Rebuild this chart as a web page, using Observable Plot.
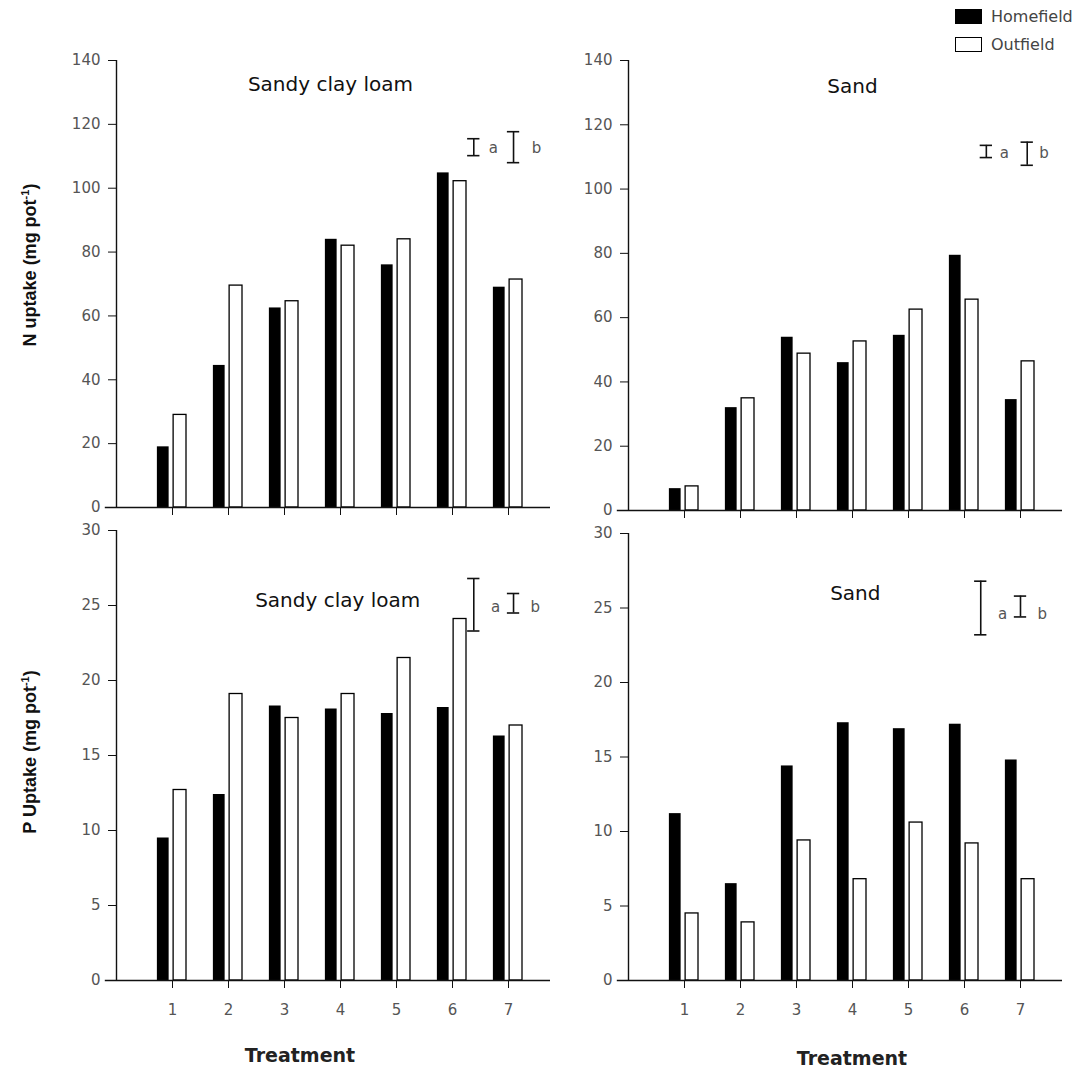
<!DOCTYPE html>
<html>
<head>
<meta charset="utf-8">
<script src="https://cdn.jsdelivr.net/npm/d3@7"></script>
<script src="https://cdn.jsdelivr.net/npm/@observablehq/plot@0.6"></script>
<style>
  body { margin: 0; background: #fff; }
  #wrap { position: relative; width: 1088px; height: 1075px; background: #fff; overflow: hidden; }
  .pos { position: absolute; }
  .ylab { font-family: "Liberation Sans", Arial, sans-serif; font-weight: bold; font-size: 18px; color: #111;
          transform: translate(-50%, -50%) rotate(-90deg); white-space: nowrap; }
  .xlab { font-family: "DejaVu Sans", sans-serif; font-weight: bold; font-size: 19px; color: #222;
          transform: translate(-50%, -50%); white-space: nowrap; }
  .leg { font-family: "DejaVu Sans", sans-serif; font-size: 16px; color: #444; white-space: nowrap; }
</style>
</head>
<body>
<div id="wrap"></div>
<script>
// ---------- data ----------
const treatments = [1, 2, 3, 4, 5, 6, 7];
const seriesNames = ["Homefield", "Outfield"];

// N uptake (mg pot-1)
const nSandyClayLoamHome = [19, 44.5, 62.5, 84, 76, 104.8, 69];
const nSandyClayLoamOut  = [29, 69.5, 64.6, 82, 84, 102.2, 71.4];
const nSandHome = [6.8, 32, 53.9, 46, 54.5, 79.4, 34.5];
const nSandOut  = [7.5, 34.9, 48.8, 52.6, 62.5, 65.6, 46.4];

// P uptake (mg pot-1)
const pSandyClayLoamHome = [9.5, 12.4, 18.3, 18.1, 17.8, 18.2, 16.3];
const pSandyClayLoamOut  = [12.7, 19.1, 17.5, 19.1, 21.5, 24.1, 17.0];
const pSandHome = [11.2, 6.5, 14.4, 17.3, 16.9, 17.2, 14.8];
const pSandOut  = [4.5, 3.9, 9.4, 6.8, 10.6, 9.2, 6.8];

// y ticks
const nTicks = [0, 20, 40, 60, 80, 100, 120, 140];
const pTicks = [0, 5, 10, 15, 20, 25, 30];

// LSD bars (a, b): position on treatment axis, low, high; label positions
const lsdLetters = ["a", "b"];
const nSandyLsdX = [6.38, 7.09], nSandyLsdLow = [110.2, 108], nSandyLsdHigh = [115.5, 117.7], nSandyLsdTextX = [6.73, 7.5], nSandyLsdTextY = 112.5;
const nSandLsdX = [6.39, 7.12], nSandLsdLow = [109.8, 107.4], nSandLsdHigh = [113.6, 114.6], nSandLsdTextX = [6.71, 7.42], nSandLsdTextY = 111.3;
const pSandyLsdX = [6.38, 7.09], pSandyLsdLow = [23.3, 24.5], pSandyLsdHigh = [26.8, 25.8], pSandyLsdTextX = [6.77, 7.48], pSandyLsdTextY = 24.9;
const pSandLsdX = [6.29, 7.0], pSandLsdLow = [23.2, 24.4], pSandLsdHigh = [26.8, 25.8], pSandLsdTextX = [6.68, 7.39], pSandLsdTextY = 24.6;

// ---------- drawing ----------
const wrap = document.getElementById("wrap");

function panel({home, out, yMax, ticks, title, titleX, titleY, lsdX, lsdLow, lsdHigh, lsdTextX, lsdTextY,
                showXLabels, left, top, width, height, mLeft, mTop, mBottom, mRight}) {
  const data = treatments.map((t, i) => ({t, home: home[i], out: out[i]}));
  const lsd = lsdLetters.map((l, i) => ({l, x: lsdX[i], lo: lsdLow[i], hi: lsdHigh[i], tx: lsdTextX[i], ty: lsdTextY}));
  const capHalf = 0.11;
  const chart = Plot.plot({
    width, height,
    marginLeft: mLeft, marginTop: mTop, marginBottom: mBottom, marginRight: mRight,
    x: {domain: [0, 7.75], axis: null},
    y: {domain: [0, yMax], axis: null},
    style: {fontFamily: "'DejaVu Sans', sans-serif", background: "transparent", overflow: "visible"},
    marks: [
      Plot.rect(data, {x1: d => d.t - 0.27, x2: d => d.t - 0.06, y1: 0, y2: "home", fill: "black"}),
      Plot.rect(data, {x1: d => d.t + 0.02, x2: d => d.t + 0.25, y1: 0, y2: "out", fill: "white", stroke: "black", strokeWidth: 1.3}),
      Plot.axisY({ticks, tickSize: 8, tickPadding: 8, fontSize: 15, fill: "#555", stroke: "#111", label: null}),
      Plot.axisX({ticks: treatments, tickSize: 8, tickPadding: 16, fontSize: 15, fill: "#555", stroke: "#111", label: null,
                  tickFormat: showXLabels ? (d => d) : (() => "")}),
      Plot.ruleX([0], {y1: 0, y2: yMax, stroke: "#111", strokeWidth: 1.4}),
      Plot.ruleY([0], {x1: -0.2, x2: 7.75, stroke: "#111", strokeWidth: 1.4}),
      Plot.ruleX(lsd, {x: "x", y1: "lo", y2: "hi", stroke: "#111", strokeWidth: 1.6}),
      Plot.ruleY(lsd, {y: "lo", x1: d => d.x - capHalf, x2: d => d.x + capHalf, stroke: "#111", strokeWidth: 1.6}),
      Plot.ruleY(lsd, {y: "hi", x1: d => d.x - capHalf, x2: d => d.x + capHalf, stroke: "#111", strokeWidth: 1.6}),
      Plot.text(lsd, {x: "tx", y: "ty", text: "l", fontSize: 15, fill: "#555"}),
      Plot.text([title], {x: titleX, y: titleY, text: d => d, fontSize: 20, fill: "#111"})
    ]
  });
  chart.classList.add("pos");
  chart.style.left = left + "px";
  chart.style.top = top + "px";
  wrap.appendChild(chart);
}

panel({home: nSandyClayLoamHome, out: nSandyClayLoamOut, yMax: 140, ticks: nTicks,
  title: "Sandy clay loam", titleX: 3.82, titleY: 132.5,
  lsdX: nSandyLsdX, lsdLow: nSandyLsdLow, lsdHigh: nSandyLsdHigh, lsdTextX: nSandyLsdTextX, lsdTextY: nSandyLsdTextY,
  showXLabels: false, left: 0, top: 0, width: 560, height: 520, mLeft: 116, mTop: 60, mBottom: 13, mRight: 10});

panel({home: nSandHome, out: nSandOut, yMax: 140, ticks: nTicks,
  title: "Sand", titleX: 4.0, titleY: 132,
  lsdX: nSandLsdX, lsdLow: nSandLsdLow, lsdHigh: nSandLsdHigh, lsdTextX: nSandLsdTextX, lsdTextY: nSandLsdTextY,
  showXLabels: false, left: 560, top: 0, width: 528, height: 520, mLeft: 68, mTop: 60, mBottom: 10, mRight: 26});

panel({home: pSandyClayLoamHome, out: pSandyClayLoamOut, yMax: 30, ticks: pTicks,
  title: "Sandy clay loam", titleX: 3.95, titleY: 25.3,
  lsdX: pSandyLsdX, lsdLow: pSandyLsdLow, lsdHigh: pSandyLsdHigh, lsdTextX: pSandyLsdTextX, lsdTextY: pSandyLsdTextY,
  showXLabels: true, left: 0, top: 520, width: 560, height: 555, mLeft: 116, mTop: 10, mBottom: 95, mRight: 10});

panel({home: pSandHome, out: pSandOut, yMax: 30, ticks: pTicks,
  title: "Sand", titleX: 4.05, titleY: 26,
  lsdX: pSandLsdX, lsdLow: pSandLsdLow, lsdHigh: pSandLsdHigh, lsdTextX: pSandLsdTextX, lsdTextY: pSandLsdTextY,
  showXLabels: true, left: 560, top: 520, width: 528, height: 555, mLeft: 68, mTop: 13, mBottom: 95, mRight: 26});

// axis titles
function addDiv(cls, html, x, y) {
  const d = document.createElement("div");
  d.className = "pos " + cls;
  d.innerHTML = html;
  d.style.left = x + "px";
  d.style.top = y + "px";
  wrap.appendChild(d);
  return d;
}
addDiv("ylab", "N uptake (mg pot<sup style='font-size:11px'>-1</sup>)", 30, 265);
addDiv("ylab", "P Uptake (mg pot<sup style='font-size:11px'>-1</sup>)", 30, 752);
addDiv("xlab", "Treatment", 300, 1055);
addDiv("xlab", "Treatment", 852, 1058);

// legend
const legFill = ["black", "white"];
seriesNames.forEach((name, i) => {
  const sw = document.createElement("div");
  sw.className = "pos";
  Object.assign(sw.style, {left: "955px", top: (9 + i * 28) + "px", width: "27px", height: "15px",
    background: legFill[i], border: "1.5px solid black", boxSizing: "border-box"});
  wrap.appendChild(sw);
  addDiv("leg", name, 991, 7 + i * 28);
});
</script>
</body>
</html>
